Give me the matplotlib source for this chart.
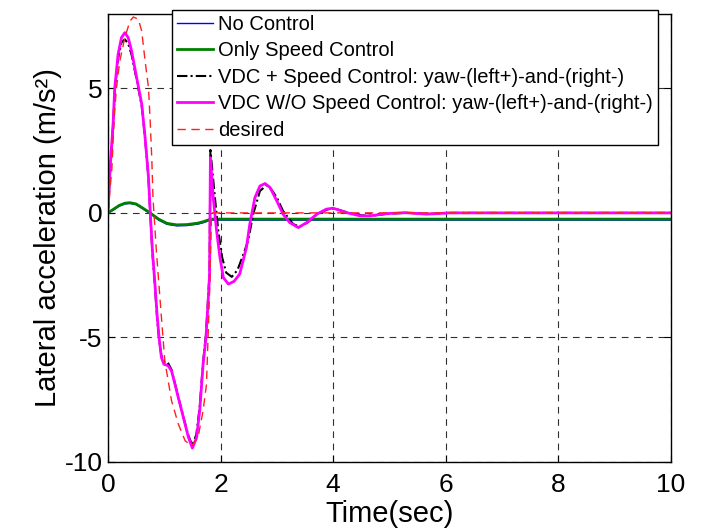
import matplotlib
matplotlib.use('Agg')
import matplotlib.pyplot as plt

plt.rcParams['font.family'] = ['Liberation Sans', 'DejaVu Sans']
plt.rcParams['axes.unicode_minus'] = False

# time (s) / lateral acceleration (m/s^2) samples for each run
t_no_ctrl = [0, 0.1, 0.2, 0.3, 0.39, 0.5, 0.6, 0.75, 0.9, 1.05, 1.22, 1.4, 1.6, 1.7, 1.8, 1.85, 10]
a_no_ctrl = [0, 0.12, 0.27, 0.36, 0.38, 0.33, 0.19, -0.03, -0.29, -0.46, -0.52, -0.51, -0.45, -0.39, -0.31, -0.29, -0.29]

t_speed = [0, 0.1, 0.2, 0.3, 0.39, 0.5, 0.6, 0.75, 0.9, 1.05, 1.22, 1.4, 1.6, 1.7, 1.8, 1.85, 10]
a_speed = [0, 0.15, 0.3, 0.39, 0.41, 0.36, 0.22, 0, -0.25, -0.42, -0.48, -0.47, -0.41, -0.35, -0.27, -0.25, -0.25]

t_vdc_speed = [0, 0.036, 0.094, 0.12, 0.18, 0.24, 0.30, 0.36, 0.42, 0.51, 0.60, 0.66, 0.72, 0.75,
               0.79, 0.835, 0.876, 0.91, 0.95, 1.0, 1.06, 1.13, 1.19, 1.25, 1.34, 1.43, 1.50, 1.57,
               1.63, 1.69, 1.74, 1.78, 1.805, 1.82, 1.90, 1.96, 2.03, 2.1, 2.2, 2.3, 2.4, 2.49, 2.58,
               2.70, 2.82, 2.9, 3.0, 3.11, 3.29, 3.41, 3.55, 3.72, 3.9, 4.02, 4.25, 4.5, 4.7, 5.0,
               5.3, 5.7, 6.1, 10]
a_vdc_speed = [0, 1.6, 3.6, 4.85, 6.2, 6.85, 6.97, 6.8, 6.35, 5.35, 4.3, 3.0, 1.4, 0.05,
               -1.6, -2.95, -4.3, -5.1, -5.75, -5.98, -6.0, -6.3, -6.85, -7.4, -8.2, -8.95, -9.35, -8.9,
               -7.8, -6.0, -4.9, -3.4, -2.4, 2.53, 0.62, -0.72, -1.8, -2.4, -2.57, -2.3, -1.7, -1.12, -0.05,
               0.88, 1.12, 0.95, 0.62, 0.08, -0.45, -0.56, -0.38, -0.05, 0.14, 0.18, 0.02, -0.1, -0.11, -0.03,
               0.0, -0.04, 0, 0]

t_vdc_only = [0, 0.036, 0.094, 0.12, 0.18, 0.24, 0.30, 0.36, 0.42, 0.51, 0.60, 0.66, 0.72, 0.75,
              0.79, 0.835, 0.876, 0.91, 0.95, 0.995, 1.07, 1.13, 1.19, 1.25, 1.34, 1.43, 1.50, 1.575,
              1.63, 1.69, 1.74, 1.78, 1.805, 1.82, 1.87, 1.93, 1.99, 2.05, 2.14, 2.24, 2.34, 2.46, 2.52,
              2.61, 2.70, 2.79, 2.88, 3.0, 3.11, 3.23, 3.38, 3.53, 3.71, 3.88, 4.0, 4.24, 4.48, 4.65,
              4.95, 5.28, 5.66, 6.07, 10]
a_vdc_only = [0, 1.7, 3.7, 5.0, 6.37, 7.04, 7.24, 7.04, 6.5, 5.43, 4.37, 3.02, 1.42, 0.08,
              -1.53, -2.86, -4.2, -5.05, -5.81, -6.08, -6.14, -6.35, -6.88, -7.42, -8.22, -9.02, -9.45, -9.02,
              -7.95, -6.08, -5.05, -3.53, -2.5, 2.22, 0.62, -0.72, -1.8, -2.6, -2.86, -2.75, -2.46, -1.39, -0.45,
              0.61, 1.08, 1.18, 1.02, 0.48, -0.05, -0.39, -0.59, -0.39, -0.05, 0.15, 0.19, 0.01, -0.12, -0.12,
              -0.03, 0.01, -0.05, 0.0, 0]

t_desired = [0, 0.01, 0.07, 0.094, 0.12, 0.15, 0.21, 0.30, 0.39, 0.45, 0.54, 0.60, 0.66, 0.72,
             0.75, 0.78, 0.80, 0.86, 0.95, 1.01, 1.13, 1.25, 1.37, 1.49, 1.60, 1.69, 1.75, 1.78,
             1.81, 1.84, 10]
a_desired = [0, 0.25, 1.8, 3.0, 4.1, 5.0, 6.1, 7.04, 7.7, 7.87, 7.78, 7.3, 6.1, 5.03,
             3.7, 2.1, 0.6, -1.53, -4.2, -5.94, -7.55, -8.48, -9.15, -9.36, -9.02, -7.95, -6.9, -4.87,
             -2.85, 0, 0]

x_ticks = [0, 2, 4, 6, 8, 10]
y_ticks = [-10, -5, 0, 5]

fig = plt.figure(figsize=(7.01, 5.29), dpi=100)
ax = fig.add_axes([0.154, 0.127, 0.803, 0.847])

l1, = ax.plot(t_no_ctrl, a_no_ctrl, color='#0000ff', lw=1.0)
l2, = ax.plot(t_speed, a_speed, color='#008000', lw=2.0)
l3, = ax.plot(t_vdc_speed, a_vdc_speed, color='black', lw=1.5, linestyle=(0, (5, 1.5, 1, 1.5)))
l4, = ax.plot(t_vdc_only, a_vdc_only, color='#ff00ff', lw=2.0)
l5, = ax.plot(t_desired, a_desired, color='#ff2020', lw=1.0, linestyle=(0, (6, 4)))

ax.set_xlim(0, 10)
ax.set_ylim(-10, 8)
ax.set_xticks(x_ticks)
ax.set_yticks(y_ticks)
ax.grid(True, color='#303030', linestyle=(0, (6, 5)), linewidth=0.8)
ax.tick_params(direction='in', length=5, top=True, right=True, labelsize=19)
ax.tick_params(axis='x', pad=8)
ax.tick_params(axis='y', pad=4)
for s in ax.spines.values():
    s.set_linewidth(1.0)

ax.set_xlabel('Time(sec)', fontsize=21, labelpad=2)
ax.set_ylabel('Lateral acceleration (m/s²)', fontsize=21, labelpad=2)

leg = fig.legend([l1, l2, l3, l4, l5],
                 ['No Control', 'Only Speed Control',
                  'VDC + Speed Control: yaw-(left+)-and-(right-)',
                  'VDC W/O Speed Control: yaw-(left+)-and-(right-)',
                  'desired'],
                 loc='upper left', bbox_to_anchor=(172 / 701, 1 - 10 / 529),
                 fontsize=14.5, frameon=True, fancybox=False, framealpha=1,
                 edgecolor='black', handlelength=1.8, handletextpad=0.25,
                 labelspacing=0.37, borderpad=0.25, borderaxespad=0)
leg.get_frame().set_linewidth(1.0)

fig.savefig('out.png', dpi=100)
